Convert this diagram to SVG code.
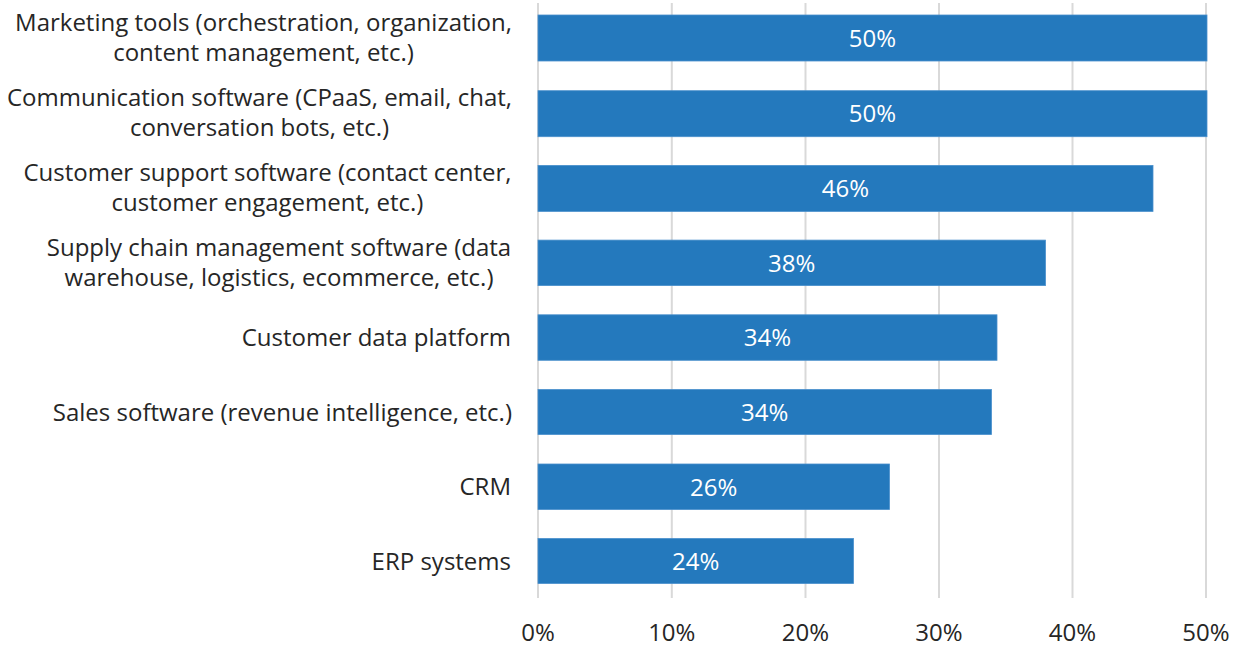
<svg xmlns="http://www.w3.org/2000/svg" width="1241" height="646" viewBox="0 0 1241 646">
<style>
.grid{stroke:#d9d9d9;stroke-width:2}
.bar{fill:#2479bd;stroke:#4a90cc;stroke-width:0.8}
.lbl{font-family:"Open Sans","Liberation Sans",sans-serif;font-size:24px;fill:#262626;text-anchor:middle}
.lbr{font-family:"Open Sans","Liberation Sans",sans-serif;font-size:24px;fill:#262626;text-anchor:end}
.val{font-family:"Open Sans","Liberation Sans",sans-serif;font-size:24px;fill:#ffffff;text-anchor:middle}
.ax{font-family:"Open Sans","Liberation Sans",sans-serif;font-size:24px;fill:#262626;text-anchor:middle}
</style>
<rect width="1241" height="646" fill="#ffffff"/>
<g id="gridlines">
<line class="grid" x1="538" y1="3" x2="538" y2="598"/>
<line class="grid" x1="671.8" y1="3" x2="671.8" y2="598"/>
<line class="grid" x1="805.5" y1="3" x2="805.5" y2="598"/>
<line class="grid" x1="939" y1="3" x2="939" y2="598"/>
<line class="grid" x1="1072.5" y1="3" x2="1072.5" y2="598"/>
<line class="grid" x1="1206" y1="3" x2="1206" y2="598"/>
</g>
<g id="bar1"><rect class="bar" x="538" y="15" width="669" height="46"/><text class="val" x="872.5" y="46.5">50%</text>
<text class="lbl" x="263.5" y="30.5">Marketing tools (orchestration, organization,</text><text class="lbl" x="263.5" y="60.5">content management, etc.)</text></g>
<g id="bar2"><rect class="bar" x="538" y="90.7" width="669" height="46"/><text class="val" x="872.5" y="122.2">50%</text>
<text class="lbl" x="259.5" y="106.2">Communication software (CPaaS, email, chat,</text><text class="lbl" x="259.5" y="136.2">conversation bots, etc.)</text></g>
<g id="bar3"><rect class="bar" x="538" y="165.4" width="615" height="46"/><text class="val" x="845.5" y="196.9">46%</text>
<text class="lbl" x="267.5" y="180.9">Customer support software (contact center,</text><text class="lbl" x="267.5" y="210.9">customer engagement, etc.)</text></g>
<g id="bar4"><rect class="bar" x="538" y="240.1" width="507.5" height="45.5"/><text class="val" x="791.7" y="271.5">38%</text>
<text class="lbl" x="279" y="255.5">Supply chain management software (data</text><text class="lbl" x="279" y="285.5">warehouse, logistics, ecommerce, etc.)</text></g>
<g id="bar5"><rect class="bar" x="538" y="314.8" width="459" height="45.5"/><text class="val" x="767.5" y="346">34%</text>
<text class="lbr" x="511" y="345.5">Customer data platform</text></g>
<g id="bar6"><rect class="bar" x="538" y="389.5" width="453.5" height="45"/><text class="val" x="764.7" y="420.5">34%</text>
<text class="lbr" x="512" y="420.5">Sales software (revenue intelligence, etc.)</text></g>
<g id="bar7"><rect class="bar" x="538" y="464" width="351.5" height="45.5"/><text class="val" x="713.7" y="495.5">26%</text>
<text class="lbr" x="511" y="495">CRM</text></g>
<g id="bar8"><rect class="bar" x="538" y="538.5" width="315.5" height="45"/><text class="val" x="695.7" y="569.5">24%</text>
<text class="lbr" x="511" y="569.5">ERP systems</text></g>
<g id="xaxis">
<text class="ax" x="538" y="641">0%</text>
<text class="ax" x="671.8" y="641">10%</text>
<text class="ax" x="805.5" y="641">20%</text>
<text class="ax" x="939" y="641">30%</text>
<text class="ax" x="1072.5" y="641">40%</text>
<text class="ax" x="1206" y="641">50%</text>
</g>
</svg>
